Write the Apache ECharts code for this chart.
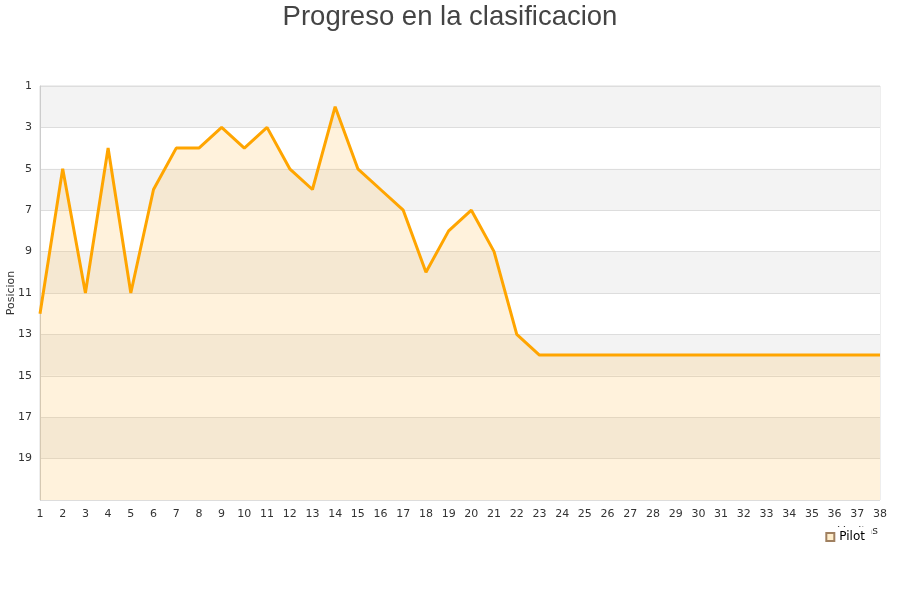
<!DOCTYPE html>
<html>
<head>
<meta charset="utf-8">
<script src="https://cdn.jsdelivr.net/npm/echarts@6/dist/echarts.min.js"></script>
<style>html,body{margin:0;padding:0;background:#fff}#c{width:900px;height:600px}</style>
</head>
<body>
<div id="c"></div>
<script>
var laps = [];
for (var i = 1; i <= 38; i++) laps.push(String(i));
var positions = [12,5,11,4,11,6,4,4,3,4,3,5,6,2,5,6,7,10,8,7,9,13,14,14,14,14,14,14,14,14,14,14,14,14,14,14,14,14];
var seriesName = 'Pilot';
var titleText = 'Progreso en la clasificacion';
var yName = 'Posicion';
var xName = 'Vueltas';

var chart = echarts.init(document.getElementById('c'), null, {renderer: 'canvas'});
chart.setOption({
  animation: false,
  backgroundColor: '#fff',
  title: {
    text: titleText, left: 'center', top: -2,
    textStyle: {fontFamily: 'Liberation Sans, Arial, sans-serif', fontSize: 27.5, fontWeight: 'normal', color: '#444'}
  },
  grid: {left: 40, right: 20, top: 86, bottom: 100, show: true, borderColor: '#ddd', borderWidth: 1,
    containLabel: false, outerBoundsMode: 'none'},
  legend: {
    data: [seriesName], right: 29, top: 527, icon: 'rect', itemWidth: 8, itemHeight: 8, itemGap: 5,
    backgroundColor: '#fff', padding: [4, 6, 4, 4], z: 10,
    textStyle: {fontFamily: 'DejaVu Sans, sans-serif', fontSize: 12, color: '#000'}
  },
  xAxis: {
    type: 'category', data: laps, boundaryGap: false,
    name: xName, nameLocation: 'end', nameGap: -2, nameMoveOverlap: false,
    nameTextStyle: {fontFamily: 'DejaVu Sans, sans-serif', fontSize: 11, color: '#333', align: 'right', verticalAlign: 'top', padding: [26, 0, 0, 0]},
    axisLine: {show: false}, axisTick: {show: false},
    axisLabel: {fontFamily: 'DejaVu Sans, sans-serif', fontSize: 11, color: '#333', margin: 9, interval: 0},
    splitLine: {show: false}
  },
  yAxis: {
    type: 'value', inverse: true, min: 1, max: 21, interval: 2,
    name: yName, nameLocation: 'middle', nameGap: 23, nameMoveOverlap: false,
    nameTextStyle: {fontFamily: 'DejaVu Sans, sans-serif', fontSize: 11, color: '#333'},
    axisLine: {show: true, lineStyle: {color: '#ccc'}}, axisTick: {show: false},
    axisLabel: {fontFamily: 'DejaVu Sans, sans-serif', fontSize: 11, color: '#333', margin: 8,
      formatter: function (v) { return v === 21 ? '' : String(v); }},
    splitLine: {show: true, lineStyle: {color: '#ddd', width: 1}},
    splitArea: {show: true, areaStyle: {color: ['#f3f3f3', '#ffffff']}}
  },
  series: [{
    name: seriesName, type: 'line', data: positions, showSymbol: false, symbol: 'none',
    lineStyle: {color: '#ffa500', width: 3},
    itemStyle: {color: '#ffeecc', borderColor: '#a08060', borderWidth: 1},
    areaStyle: {origin: 'end', color: 'rgba(255,195,90,0.3)'},
    z: 3
  }]
});
</script>
</body>
</html>
